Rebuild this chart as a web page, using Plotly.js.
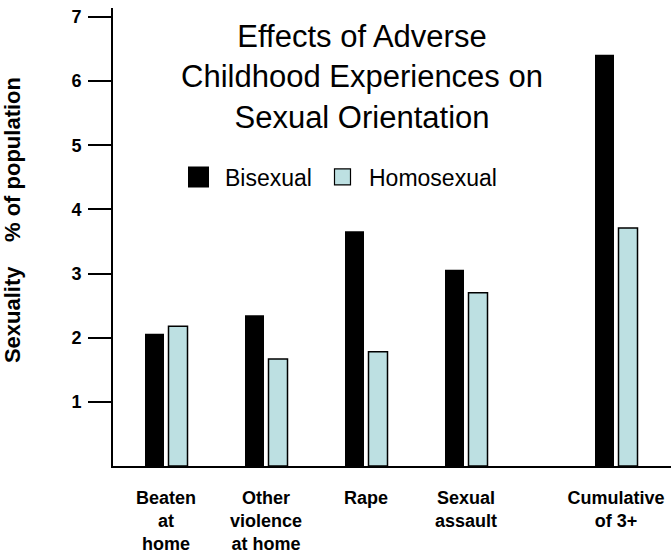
<!DOCTYPE html>
<html>
<head>
<meta charset="utf-8">
<script src="https://cdn.plot.ly/plotly-3.0.1.min.js"></script>
<style>
  html, body { margin: 0; padding: 0; background: #ffffff; }
  #chart { width: 671px; height: 555px; }
</style>
</head>
<body>
<div id="chart"></div>
<script>
// ---- data ----
var categories = ["Beaten<br>at<br>home", "Other<br>violence<br>at home", "Rape", "Sexual<br>assault", "Cumulative<br>of 3+"];
var groupPositions = [1, 2, 3, 4, 5.5];
var bisexual = [2.06, 2.35, 3.66, 3.06, 6.41];
var homosexual = [2.18, 1.67, 1.78, 2.70, 3.71];
var yTicks = [1, 2, 3, 4, 5, 6, 7];
var seriesNames = ["Bisexual", "Homosexual"];
var chartTitle = "Effects of Adverse<br>Childhood Experiences on<br>Sexual Orientation";
var yTitle = "Sexuality\u00a0\u00a0\u00a0\u00a0% of population";

var FONT = "Liberation Sans, Arial, Helvetica, sans-serif";
var BLUE = "#bde0e2";

var traces = [
  {
    type: "bar", x: groupPositions, y: bisexual, name: seriesNames[0],
    width: 0.19, offset: -0.21,
    marker: { color: "#000000", line: { color: "#000000", width: 0 } },
    showlegend: false, hoverinfo: "skip"
  },
  {
    type: "bar", x: groupPositions, y: homosexual, name: seriesNames[1],
    width: 0.19, offset: 0.025,
    marker: { color: BLUE, line: { color: "#000000", width: 1.5 } },
    showlegend: false, hoverinfo: "skip"
  },
  // legend keys
  {
    type: "scatter", mode: "markers", x: [null], y: [null], name: seriesNames[0],
    legend: "legend",
    marker: { symbol: "square", size: 16, color: "#000000", line: { color: "#000000", width: 5 } },
    hoverinfo: "skip"
  },
  {
    type: "scatter", mode: "markers", x: [null], y: [null], name: seriesNames[1],
    legend: "legend2",
    marker: { symbol: "square", size: 16, color: BLUE, line: { color: "#000000", width: 1.2 } },
    hoverinfo: "skip"
  }
];

var legendCommon = {
  orientation: "h",
  xanchor: "left",
  y: 0.631, yanchor: "middle",
  font: { family: FONT, size: 23, color: "#000000" },
  bgcolor: "rgba(0,0,0,0)",
  itemwidth: 43,
  itemclick: false, itemdoubleclick: false
};

var layout = {
  width: 671, height: 555,
  margin: { l: 113, r: 0, t: 8, b: 89 },
  paper_bgcolor: "#ffffff", plot_bgcolor: "#ffffff",
  font: { family: FONT, color: "#000000" },
  title: {
    text: chartTitle,
    font: { family: FONT, size: 31, color: "#000000" },
    xref: "container", x: 362 / 671, xanchor: "center",
    yref: "container", y: 1 - 47 / 555, yanchor: "top"
  },
  showlegend: true,
  legend: Object.assign({}, legendCommon, { x: 0.1057 }),
  legend2: Object.assign({}, legendCommon, { x: 0.3638 }),
  xaxis: {
    range: [0.47, 6.05],
    tickmode: "array", tickvals: groupPositions, ticktext: categories,
    ticks: "", showgrid: false, zeroline: false,
    showline: true, linecolor: "#000000", linewidth: 2,
    tickfont: { family: FONT, size: 18, color: "#000000", weight: "bold" },
    ticklabelstandoff: 14,
    fixedrange: true
  },
  yaxis: {
    range: [0, 7.14],
    tickmode: "array", tickvals: yTicks,
    ticks: "outside", ticklen: 23, tickwidth: 2, tickcolor: "#000000",
    showgrid: false, zeroline: false,
    showline: true, linecolor: "#000000", linewidth: 2,
    tickfont: { family: FONT, size: 18, color: "#000000", weight: "bold" },
    ticklabelstandoff: 3,
    fixedrange: true
  },
  annotations: [
    {
      text: yTitle, textangle: -90,
      xref: "paper", yref: "paper",
      x: -0.181, y: 0.537, xanchor: "center", yanchor: "middle",
      showarrow: false,
      font: { family: FONT, size: 22, color: "#000000", weight: "bold" }
    }
  ]
};

Plotly.newPlot("chart", traces, layout, { displayModeBar: false, staticPlot: true });
</script>
</body>
</html>
